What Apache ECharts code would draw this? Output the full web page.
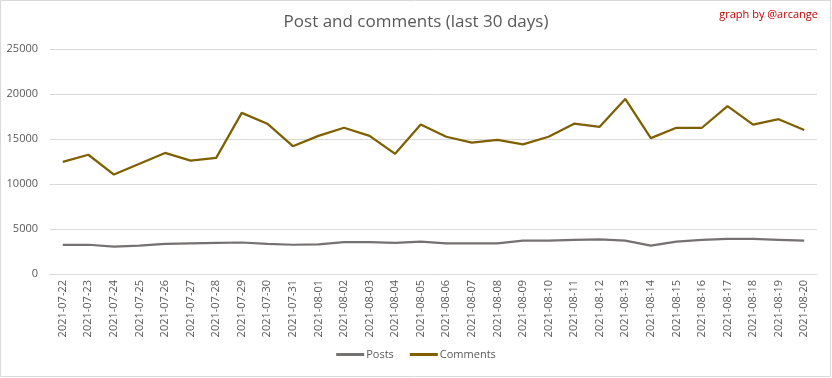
<!DOCTYPE html>
<html>
<head>
<meta charset="utf-8">
<script src="https://cdn.jsdelivr.net/npm/echarts@6/dist/echarts.min.js"></script>
<style>
  html, body { margin: 0; padding: 0; background: #fff; }
  #chart { width: 832px; height: 378px; }
</style>
</head>
<body>
<div id="chart"></div>
<script>
const days = [
  '2021-07-22', '2021-07-23', '2021-07-24', '2021-07-25', '2021-07-26', '2021-07-27',
  '2021-07-28', '2021-07-29', '2021-07-30', '2021-07-31', '2021-08-01', '2021-08-02',
  '2021-08-03', '2021-08-04', '2021-08-05', '2021-08-06', '2021-08-07', '2021-08-08',
  '2021-08-09', '2021-08-10', '2021-08-11', '2021-08-12', '2021-08-13', '2021-08-14',
  '2021-08-15', '2021-08-16', '2021-08-17', '2021-08-18', '2021-08-19', '2021-08-20'
];
const posts = [
  3250, 3250, 3040, 3150, 3350, 3400, 3450, 3500, 3350, 3250,
  3300, 3550, 3550, 3450, 3600, 3400, 3400, 3400, 3700, 3700,
  3800, 3850, 3700, 3150, 3600, 3800, 3900, 3900, 3800, 3700
];
const comments = [
  12450, 13250, 11050, 12250, 13450, 12600, 12900, 17900, 16700, 14200,
  15350, 16250, 15350, 13350, 16600, 15250, 14600, 14900, 14400, 15250,
  16700, 16350, 19450, 15100, 16250, 16250, 18650, 16600, 17200, 16000
];

const font = '"Open Sans", sans-serif';
const chart = echarts.init(document.getElementById('chart'));
chart.setOption({
  animation: false,
  backgroundColor: '#fff',
  title: {
    text: 'Post and comments (last 30 days)',
    left: 'center',
    top: 9,
    textStyle: { color: '#595959', fontSize: 17, fontWeight: 'normal', fontFamily: font }
  },
  graphic: [
    {
      type: 'rect',
      shape: { x: 0.5, y: 0.5, width: 830, height: 376 },
      style: { fill: 'none', stroke: '#d9d9d9', lineWidth: 1 },
      silent: true
    },
    {
      type: 'text',
      right: 14,
      top: 9,
      style: { text: 'graph by @arcange', fill: '#c00000', fontSize: 11, fontFamily: font }
    }
  ],
  legend: {
    bottom: 13,
    left: 'center',
    itemWidth: 28,
    itemHeight: 3,
    itemGap: 16,
    icon: 'rect',
    textStyle: { color: '#595959', fontSize: 11, fontFamily: font, padding: [0, 0, 0, -3] },
    data: ['Posts', 'Comments']
  },
  grid: { left: 50, right: 15, top: 49, bottom: 104 },
  xAxis: {
    type: 'category',
    data: days,
    boundaryGap: true,
    axisLine: { lineStyle: { color: '#d9d9d9' } },
    axisTick: { show: false },
    axisLabel: {
      rotate: 90,
      interval: 0,
      margin: 6,
      color: '#595959',
      fontSize: 11,
      fontFamily: font
    }
  },
  yAxis: {
    type: 'value',
    min: 0,
    max: 25000,
    interval: 5000,
    axisLine: { show: false },
    axisTick: { show: false },
    axisLabel: {
      color: '#595959',
      fontSize: 11,
      margin: 12,
      fontFamily: font,
      formatter: function (v) { return String(v); }
    },
    splitLine: { lineStyle: { color: '#d9d9d9' } }
  },
  series: [
    {
      name: 'Posts',
      type: 'line',
      data: posts,
      symbol: 'none',
      lineStyle: { color: '#767171', width: 2.25 },
      itemStyle: { color: '#767171' }
    },
    {
      name: 'Comments',
      type: 'line',
      data: comments,
      symbol: 'none',
      lineStyle: { color: '#7f6000', width: 2.25 },
      itemStyle: { color: '#7f6000' }
    }
  ]
});
</script>
</body>
</html>
